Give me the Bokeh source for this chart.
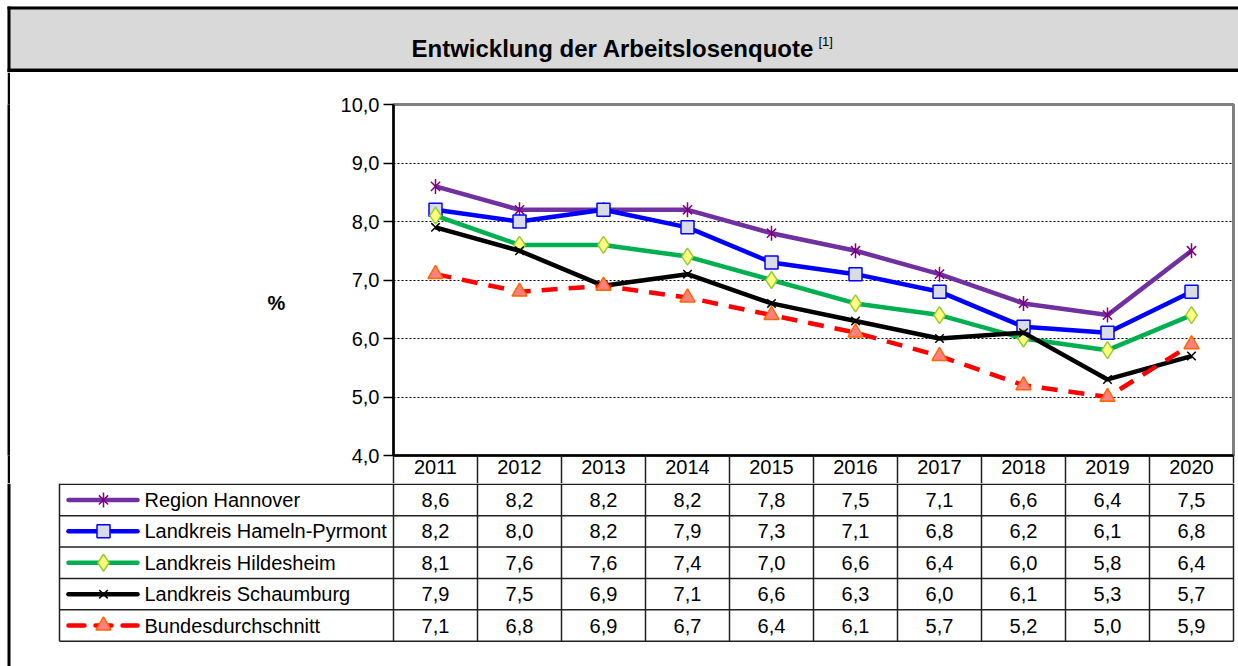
from bokeh.plotting import figure
from bokeh.layouts import column, row
from bokeh.models import Range1d, FixedTicker, ColumnDataSource, Spacer
from bokeh.embed import file_html
from bokeh.resources import INLINE
from bokeh.core.properties import value

# ---------------- data ----------------
years = [2011, 2012, 2013, 2014, 2015, 2016, 2017, 2018, 2019, 2020]
region_hannover = [8.6, 8.2, 8.2, 8.2, 7.8, 7.5, 7.1, 6.6, 6.4, 7.5]
hameln_pyrmont = [8.2, 8.0, 8.2, 7.9, 7.3, 7.1, 6.8, 6.2, 6.1, 6.8]
hildesheim = [8.1, 7.6, 7.6, 7.4, 7.0, 6.6, 6.4, 6.0, 5.8, 6.4]
schaumburg = [7.9, 7.5, 6.9, 7.1, 6.6, 6.3, 6.0, 6.1, 5.3, 5.7]
bundesdurchschnitt = [7.1, 6.8, 6.9, 6.7, 6.4, 6.1, 5.7, 5.2, 5.0, 5.9]
series_names = ["Region Hannover", "Landkreis Hameln-Pyrmont", "Landkreis Hildesheim",
                "Landkreis Schaumburg", "Bundesdurchschnitt"]
y_ticks = [4, 5, 6, 7, 8, 9, 10]
title_text = "Entwicklung der Arbeitslosenquote"
footnote_text = "[1]"
y_label = "%"

series_values = [region_hannover, hameln_pyrmont, hildesheim, schaumburg, bundesdurchschnitt]

# ---------------- styles ----------------
FONT = "Liberation Sans"
styles = [
    dict(color="#7030A0", dash="solid", markers=[("x", "#800080", None, 13), ("dash", "#800080", None, 15)]),
    dict(color="#0000FF", dash="solid", markers=[("square", "#0000FF", "#D9DCE6", 13)]),
    dict(color="#00B050", dash="solid", markers=[("diamond", "#99CC33", "#FFFF80", 17)]),
    dict(color="#000000", dash="solid", markers=[("x", "#000000", None, 12)]),
    dict(color="#FF0000", dash="16 11", markers=[("triangle", "#FF6600", "#FF8080", 15)]),
]

def fmt(v):
    return f"{v:.1f}".replace(".", ",")

W = 1238
H = 666
TITLE_H = 72
CHART_TOP = TITLE_H
PLOT_TOP = 104
PLOT_BOTTOM = 455
TABLE_TOP = 483
CHART_H = TABLE_TOP - CHART_TOP
TABLE_H = H - TABLE_TOP
PLOT_LEFT = 393
PLOT_RIGHT = 1233
COL_W = (PLOT_RIGHT - PLOT_LEFT) / len(years)
B_LEFT = 60
B_RIGHT = W - PLOT_RIGHT
B_TOP = PLOT_TOP - CHART_TOP
B_BOTTOM = TABLE_TOP - PLOT_BOTTOM
EDGE_X0 = 7
EDGE_X1 = 10
LF_W = PLOT_LEFT - B_LEFT - EDGE_X1

def px2yr(px):
    return years[0] - 0.5 + (px - PLOT_LEFT) / COL_W

def base_fig(w, h, xr, yr, **kw):
    f = figure(width=w, height=h, x_range=xr, y_range=yr, output_backend="svg",
               toolbar_location=None, x_axis_type=None, y_axis_type=None,
               outline_line_color=None, **kw)
    f.xgrid.visible = False
    f.ygrid.visible = False
    f.background_fill_color = "white"
    f.border_fill_color = "white"
    return f

# ---------------- title ----------------
t = base_fig(W, TITLE_H, Range1d(0, W), Range1d(TITLE_H, 0), min_border=0)
t.quad(left=EDGE_X0, right=W, top=6, bottom=68, fill_color="#D9D9D9", line_color=None)
t.quad(left=EDGE_X0, right=W, top=6, bottom=9, fill_color="black", line_color=None)
t.quad(left=EDGE_X0, right=W, top=68, bottom=72, fill_color="black", line_color=None)
t.quad(left=EDGE_X0, right=EDGE_X1, top=6, bottom=72, fill_color="black", line_color=None)
t.text(x=[411], y=[48], text=[title_text], text_font=value(FONT), text_font_size="24px",
       text_font_style="bold", text_align="left", text_baseline="alphabetic", text_color="black")
t.text(x=[818], y=[41], text=[footnote_text], text_font=value(FONT), text_font_size="13px",
       text_align="left", text_baseline="alphabetic", text_color="black")

# ---------------- left strip + label column ----------------
strip = figure(width=EDGE_X1 - EDGE_X0, height=CHART_H, output_backend="svg", toolbar_location=None,
               x_axis_type=None, y_axis_type=None, outline_line_color=None,
               min_border_left=0, min_border_right=0, min_border_top=B_TOP, min_border_bottom=B_BOTTOM,
               x_range=Range1d(0, 1), y_range=Range1d(0, 1))
strip.border_fill_color = "black"
strip.background_fill_color = "black"
strip.xgrid.visible = False
strip.ygrid.visible = False

lf = base_fig(LF_W, CHART_H, Range1d(EDGE_X1, EDGE_X1 + LF_W), Range1d(PLOT_BOTTOM, PLOT_TOP),
              min_border_left=0, min_border_right=0, min_border_top=B_TOP, min_border_bottom=B_BOTTOM)
lf.text(x=[276], y=[302], text=[y_label], text_font=value(FONT), text_font_size="20px",
        text_font_style="bold", text_align="center", text_baseline="middle", text_color="black")

# ---------------- chart ----------------
p = figure(width=W - EDGE_X1 - LF_W, height=CHART_H,
           x_range=Range1d(years[0] - 0.5, years[-1] + 0.5),
           y_range=Range1d(y_ticks[0], y_ticks[-1]),
           output_backend="svg", toolbar_location=None,
           min_border_left=B_LEFT, min_border_right=B_RIGHT,
           min_border_top=B_TOP, min_border_bottom=B_BOTTOM)
p.outline_line_color = "#808080"
p.outline_line_width = 3
p.background_fill_color = "white"
p.border_fill_color = "white"

p.yaxis.ticker = FixedTicker(ticks=y_ticks, minor_ticks=[])
p.yaxis.major_label_overrides = {v: fmt(v) for v in y_ticks}
p.yaxis.major_tick_out = 10
p.yaxis.major_tick_in = 0
p.yaxis.minor_tick_out = 0
p.yaxis.minor_tick_in = 0
p.yaxis.major_tick_line_color = "black"
p.yaxis.major_tick_line_width = 1.5
p.yaxis.axis_line_color = "black"
p.yaxis.axis_line_width = 2.5
p.yaxis.major_label_standoff = 4
p.yaxis.major_label_text_font = FONT
p.yaxis.major_label_text_font_size = "20px"
p.yaxis.major_label_text_color = "black"

bounds = [y - 0.5 for y in years] + [years[-1] + 0.5]
p.xaxis.ticker = FixedTicker(ticks=years, minor_ticks=bounds)
p.xaxis.major_label_overrides = {y: str(y) for y in years}
p.xaxis.major_tick_out = 0
p.xaxis.major_tick_in = 0
p.xaxis.minor_tick_out = B_BOTTOM
p.xaxis.minor_tick_in = 0
p.xaxis.minor_tick_line_color = "#202020"
p.xaxis.minor_tick_line_width = 1.5
p.xaxis.axis_line_color = "black"
p.xaxis.axis_line_width = 2.5
p.xaxis.major_label_standoff = -24
p.xaxis.major_label_text_font = FONT
p.xaxis.major_label_text_font_size = "20px"
p.xaxis.major_label_text_color = "black"

p.xgrid.visible = False
p.ygrid.ticker = FixedTicker(ticks=y_ticks[1:-1])
p.ygrid.grid_line_color = "#000000"
p.ygrid.grid_line_dash = "2 2"
p.ygrid.grid_line_width = 1

def draw_markers(fig, xs, ys, markers):
    for (m, lc, fc, sz) in markers:
        kw = dict(x=xs, y=ys, marker=m, size=sz, line_color=lc, line_width=1.5)
        kw["fill_color"] = fc
        if m == "dash":
            kw["angle"] = 1.5708
        fig.scatter(**kw)

for vals, st in zip(series_values, styles):
    src = ColumnDataSource(dict(x=years, y=vals))
    p.line("x", "y", source=src, line_color=st["color"], line_width=4.5, line_dash=st["dash"])
    draw_markers(p, years, vals, st["markers"])

# ---------------- table ----------------
tb = base_fig(W, TABLE_H, Range1d(px2yr(0), px2yr(W)), Range1d(TABLE_H, 0), min_border=0)
ROW_H = 31.4
n = len(series_names)
tab_left = px2yr(59)
tab_right = years[-1] + 0.5
tb.quad(left=px2yr(EDGE_X0), right=px2yr(EDGE_X1), top=0, bottom=TABLE_H, fill_color="black", line_color=None)
hy = [i * ROW_H + 0.75 for i in range(n + 1)]
tb.segment(x0=[tab_left] * (n + 1), x1=[tab_right] * (n + 1), y0=hy, y1=hy,
           line_color="#202020", line_width=1.5)
vx = [tab_left] + bounds
tb.segment(x0=vx, x1=vx, y0=[0] * len(vx), y1=[hy[-1]] * len(vx),
           line_color="#202020", line_width=1.5)

for i, (name, vals, st) in enumerate(zip(series_names, series_values, styles)):
    yc = i * ROW_H + ROW_H / 2 + 0.75
    tb.text(x=years, y=[yc] * len(years), text=[fmt(v) for v in vals], text_font=value(FONT),
            text_font_size="20px", text_align="center", text_baseline="middle", text_color="black")
    tb.text(x=[px2yr(144)], y=[yc], text=[name], text_font=value(FONT), text_font_size="20px",
            text_align="left", text_baseline="middle", text_color="black")
    tb.line(x=[px2yr(68), px2yr(137)], y=[yc, yc], line_color=st["color"], line_width=4.5,
            line_dash=st["dash"], line_cap="round")
    draw_markers(tb, [px2yr(103)], [yc], st["markers"])

layout = column(t, row(Spacer(width=EDGE_X0, height=CHART_H), strip, lf, p), tb)
open("out.html", "w").write(file_html(layout, INLINE))
